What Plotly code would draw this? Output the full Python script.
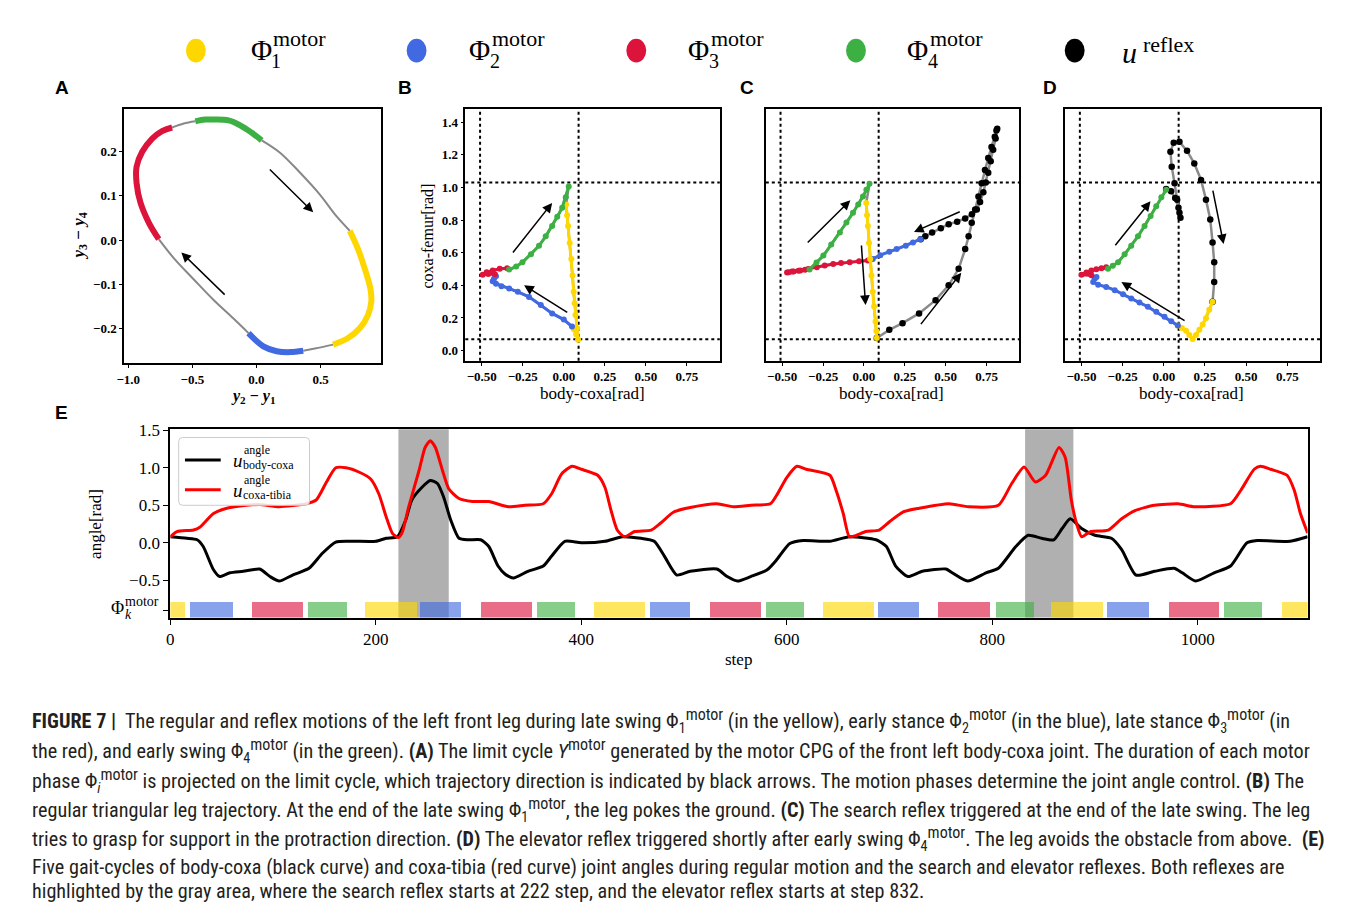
import plotly.graph_objects as go

W, H = 1360, 910
SERIF = "Liberation Serif, DejaVu Serif, serif"
SANS = "Liberation Sans, Arial, sans-serif"
CAP = "Liberation Sans Narrow, Roboto Condensed, Liberation Sans, sans-serif"

# ---------------- data ----------------
phase_colors = ["#FFD700", "#4169E1", "#DC143C", "#3CB043"]
legend_labels = ["1", "2", "3", "4"]

# Panel A: limit cycle of motor CPG (y2-y1, y3-y4), split in phase segments
A_green = [(-0.477, 0.269), (-0.40, 0.273), (-0.334, 0.273), (-0.218, 0.271), (-0.127, 0.26), (-0.036, 0.243), (0.041, 0.226)]
A_gray1 = [(0.041, 0.226), (0.184, 0.198), (0.339, 0.153), (0.495, 0.103), (0.624, 0.054), (0.728, 0.021)]
A_yellow = [(0.728, 0.021), (0.793, -0.021), (0.845, -0.065), (0.889, -0.11), (0.896, -0.14), (0.870, -0.17), (0.806, -0.2), (0.715, -0.222), (0.598, -0.237)]
A_gray2 = [(0.598, -0.237), (0.456, -0.246), (0.365, -0.251)]
A_blue = [(0.365, -0.251), (0.262, -0.254), (0.158, -0.252), (0.054, -0.241), (-0.062, -0.211)]
A_gray3 = [(-0.062, -0.211), (-0.179, -0.178), (-0.334, -0.136), (-0.490, -0.089), (-0.645, -0.041), (-0.762, 0.002)]
A_red = [(-0.762, 0.002), (-0.839, 0.039), (-0.904, 0.084), (-0.935, 0.129), (-0.935, 0.166), (-0.891, 0.2), (-0.813, 0.23), (-0.736, 0.247), (-0.658, 0.255)]
A_gray4 = [(-0.658, 0.255), (-0.567, 0.264), (-0.477, 0.269)]
A_arrows = [((0.093, 0.163), (0.443, 0.063)), ((-0.236, -0.127), (-0.586, -0.028))]

# Panel B: regular triangular trajectory (body-coxa, coxa-femur)
B_yellow = [(0.014, 0.895), (0.020, 0.83), (0.026, 0.764), (0.036, 0.66), (0.046, 0.562), (0.053, 0.46), (0.060, 0.36),
            (0.066, 0.29), (0.071, 0.218), (0.081, 0.137), (0.087, 0.067), (0.075, 0.10), (0.062, 0.13)]
B_blue = [(0.05, 0.147), (0.0, 0.19), (-0.071, 0.228), (-0.14, 0.28), (-0.212, 0.329), (-0.28, 0.36), (-0.333, 0.38),
          (-0.38, 0.395), (-0.413, 0.41), (-0.433, 0.425), (-0.425, 0.44), (-0.413, 0.455)]
B_red = [(-0.42, 0.468), (-0.46, 0.47), (-0.494, 0.465), (-0.47, 0.48), (-0.433, 0.491), (-0.39, 0.502), (-0.345, 0.505)]
B_green = [(-0.333, 0.497), (-0.29, 0.515), (-0.252, 0.541), (-0.2, 0.59), (-0.151, 0.642), (-0.11, 0.70), (-0.071, 0.764),
           (-0.04, 0.82), (-0.010, 0.875), (0.012, 0.94), (0.030, 1.006)]
B_arrows = [((-0.317, 0.592), (-0.071, 0.905)), ((0.03, 0.228), (-0.242, 0.40))]

# Panel C: search reflex
C_yellow = [(0.014, 0.905), (0.019, 0.83), (0.024, 0.764), (0.031, 0.66), (0.038, 0.562), (0.046, 0.46), (0.054, 0.36),
            (0.062, 0.27), (0.071, 0.178), (0.076, 0.12), (0.079, 0.077)]
C_reflex = [(0.079, 0.077), (0.155, 0.127), (0.236, 0.168), (0.337, 0.228), (0.438, 0.309), (0.518, 0.4), (0.579, 0.501),
            (0.619, 0.622), (0.64, 0.70), (0.659, 0.784), (0.68, 0.865), (0.70, 0.945), (0.72, 1.025), (0.74, 1.107),
            (0.76, 1.18), (0.78, 1.248), (0.80, 1.31), (0.81, 1.349), (0.815, 1.36), (0.805, 1.3), (0.79, 1.23),
            (0.775, 1.16), (0.76, 1.09), (0.745, 1.03), (0.73, 0.97), (0.71, 0.91), (0.69, 0.865), (0.66, 0.835),
            (0.619, 0.81), (0.57, 0.79), (0.518, 0.774), (0.47, 0.75), (0.417, 0.723), (0.375, 0.70), (0.347, 0.683)]
C_blue = [(0.347, 0.683), (0.30, 0.662), (0.256, 0.642), (0.20, 0.622), (0.155, 0.606), (0.10, 0.585), (0.054, 0.562)]
C_red = [(0.024, 0.552), (-0.03, 0.548), (-0.087, 0.541), (-0.14, 0.536), (-0.188, 0.531), (-0.24, 0.521), (-0.288, 0.511),
         (-0.34, 0.50), (-0.389, 0.491), (-0.43, 0.484), (-0.46, 0.48), (-0.47, 0.478), (-0.44, 0.485), (-0.40, 0.49), (-0.36, 0.495)]
C_green = [(-0.333, 0.497), (-0.29, 0.54), (-0.248, 0.582), (-0.2, 0.65), (-0.147, 0.723), (-0.107, 0.785), (-0.067, 0.844),
           (-0.035, 0.895), (-0.006, 0.945), (0.015, 0.985), (0.034, 1.022)]
C_arrows = [((-0.353, 0.653), (-0.083, 0.921)), ((-0.016, 0.653), (0.01, 0.279)),
            ((0.595, 0.855), (0.306, 0.727)), ((0.341, 0.153), (0.595, 0.477))]

# Panel D: elevator reflex
D_reflex = [(0.014, 0.99), (0.044, 0.976), (0.069, 0.935), (0.089, 0.875), (0.101, 0.814), (0.095, 0.844), (0.081, 0.925),
            (0.065, 1.026), (0.048, 1.127), (0.04, 1.218), (0.06, 1.273), (0.095, 1.279), (0.141, 1.224), (0.185, 1.147),
            (0.226, 1.046), (0.256, 0.925), (0.282, 0.804), (0.296, 0.663), (0.306, 0.541), (0.306, 0.42), (0.296, 0.299)]
D_yellow = [(0.296, 0.299), (0.276, 0.25), (0.256, 0.198), (0.236, 0.16), (0.216, 0.127), (0.195, 0.095), (0.175, 0.071),
            (0.155, 0.095), (0.135, 0.121), (0.11, 0.138), (0.085, 0.154)]
D_blue = [(0.085, 0.154), (0.045, 0.18), (0.004, 0.208), (-0.046, 0.238), (-0.097, 0.269), (-0.148, 0.294), (-0.198, 0.319),
          (-0.248, 0.345), (-0.298, 0.37), (-0.35, 0.39), (-0.399, 0.404), (-0.429, 0.42), (-0.42, 0.44), (-0.409, 0.451)]
D_red = [(-0.44, 0.462), (-0.5, 0.465), (-0.47, 0.478), (-0.44, 0.491), (-0.41, 0.498), (-0.379, 0.505), (-0.35, 0.51)]
D_green = [(-0.339, 0.501), (-0.31, 0.52), (-0.278, 0.541), (-0.238, 0.59), (-0.198, 0.642), (-0.157, 0.70), (-0.117, 0.764),
           (-0.08, 0.825), (-0.046, 0.885), (-0.015, 0.94), (0.014, 0.986)]
D_arrows = [((-0.302, 0.636), (-0.081, 0.915)), ((0.135, 0.178), (-0.258, 0.42)), ((0.296, 0.99), (0.363, 0.653))]

bc_limits = [-0.51, 0.09]     # body-coxa joint limits (dotted)
cf_limits = [0.07, 1.03]      # coxa-femur joint limits (dotted)

# Panel E: joint angles over time
bc_steps = [0, 16, 26, 32, 42, 48, 58, 71, 87, 97, 106, 119, 135, 148, 161, 177, 200, 210, 221, 229, 235, 245, 253, 260,
            266, 273, 281, 290, 302, 310, 319, 326, 334, 348, 363, 371, 384, 400, 423, 440, 458, 471, 481, 493, 506, 532,
            542, 552, 565, 581, 590, 603, 616, 642, 661, 687, 697, 706, 718, 732, 755, 761, 776, 794, 806, 823, 835, 848,
            860, 868, 876, 887, 900, 916, 926, 940, 958, 977, 985, 998, 1016, 1032, 1048, 1058, 1090, 1107]
bc_angle = [0.08, 0.06, 0.04, -0.05, -0.36, -0.45, -0.40, -0.38, -0.35, -0.45, -0.51, -0.43, -0.34, -0.14, 0.01, 0.02,
            0.02, 0.06, 0.08, 0.30, 0.57, 0.74, 0.83, 0.79, 0.61, 0.30, 0.06, 0.04, 0.04, -0.05, -0.31, -0.42, -0.47,
            -0.38, -0.31, -0.18, 0.02, 0.0, 0.02, 0.08, 0.06, 0.02, -0.18, -0.43, -0.38, -0.35, -0.45, -0.51, -0.45,
            -0.36, -0.23, -0.01, 0.03, 0.02, 0.08, 0.04, -0.05, -0.31, -0.45, -0.38, -0.35, -0.40, -0.51, -0.40, -0.34,
            -0.05, 0.10, 0.06, 0.04, 0.19, 0.32, 0.19, 0.10, 0.06, -0.09, -0.43, -0.38, -0.34, -0.40, -0.51, -0.40,
            -0.31, 0.0, 0.03, 0.02, 0.08]
ct_steps = [0, 6.5, 22.6, 29, 42, 55, 74, 87, 106, 132, 142, 152, 161, 171, 184, 195, 203, 210, 216, 222, 226, 232, 242,
            248, 253, 258, 265, 271, 281, 294, 310, 329, 345, 363, 371, 381, 391, 400, 416, 423, 429, 435, 442, 452, 468,
            477, 490, 506, 532, 548, 565, 584, 590, 600, 610, 619, 642, 648, 655, 661, 668, 677, 690, 700, 713, 729, 758,
            777, 806, 819, 831, 842, 852, 865, 871, 877, 882, 887, 896, 913, 926, 939, 958, 981, 997, 1032, 1042, 1055,
            1061, 1071, 1087, 1094, 1100, 1107]
ct_angle = [0.08, 0.15, 0.17, 0.21, 0.39, 0.46, 0.50, 0.51, 0.48, 0.52, 0.57, 0.81, 1.0, 1.0, 0.94, 0.85, 0.65, 0.35,
            0.13, 0.07, 0.15, 0.48, 0.96, 1.27, 1.36, 1.27, 0.96, 0.72, 0.59, 0.55, 0.55, 0.48, 0.50, 0.52, 0.65, 0.92,
            1.02, 0.98, 0.90, 0.74, 0.43, 0.17, 0.08, 0.15, 0.17, 0.26, 0.41, 0.47, 0.52, 0.48, 0.50, 0.52, 0.63, 0.87,
            1.02, 0.98, 0.90, 0.70, 0.39, 0.08, 0.10, 0.15, 0.17, 0.28, 0.41, 0.46, 0.52, 0.48, 0.50, 0.79, 1.01, 0.81,
            0.90, 1.27, 1.14, 0.57, 0.26, 0.08, 0.15, 0.17, 0.32, 0.43, 0.50, 0.52, 0.48, 0.52, 0.70, 0.98, 1.02, 0.98,
            0.90, 0.70, 0.39, 0.13]

phase_start = [0, 19, 80, 134, 190, 243, 303, 357, 413, 467, 526, 580, 636, 689, 748, 804, 858, 912, 972, 1026, 1082]
phase_end = [15, 61, 129, 172, 240, 283, 352, 394, 462, 506, 575, 617, 685, 729, 798, 841, 908, 953, 1021, 1063, 1110]
phase_id = [1, 2, 3, 4, 1, 2, 3, 4, 1, 2, 3, 4, 1, 2, 3, 4, 1, 2, 3, 4, 1]
reflex_start = [222, 832]
reflex_end = [271, 879]

E_xticks = [0, 200, 400, 600, 800, 1000]
E_yticks = [-0.5, 0.0, 0.5, 1.0, 1.5]
A_xticks = [-1.0, -0.5, 0.0, 0.5]
A_yticks = [-0.2, -0.1, 0.0, 0.1, 0.2]
BCD_xticks = [-0.5, -0.25, 0.0, 0.25, 0.5, 0.75]
B_yticks = [0.0, 0.2, 0.4, 0.6, 0.8, 1.0, 1.2, 1.4]

M = '<sup><span style="font-size:16px">motor</span></sup>'
caption_lines = [
    "<b>FIGURE 7 |</b>  The regular and reflex motions of the left front leg during late swing Φ<sub>1</sub>" + M + " (in the yellow), early stance Φ<sub>2</sub>" + M + " (in the blue), late stance Φ<sub>3</sub>" + M + " (in",
    "the red), and early swing Φ<sub>4</sub>" + M + " (in the green). <b>(A)</b> The limit cycle <i>Y</i>" + M + " generated by the motor CPG of the front left body-coxa joint. The duration of each motor",
    "phase Φ<sub><i>i</i></sub>" + M + " is projected on the limit cycle, which trajectory direction is indicated by black arrows. The motion phases determine the joint angle control. <b>(B)</b> The",
    "regular triangular leg trajectory. At the end of the late swing Φ<sub>1</sub>" + M + ", the leg pokes the ground. <b>(C)</b> The search reflex triggered at the end of the late swing. The leg",
    "tries to grasp for support in the protraction direction. <b>(D)</b> The elevator reflex triggered shortly after early swing Φ<sub>4</sub>" + M + ". The leg avoids the obstacle from above.  <b>(E)</b>",
    "Five gait-cycles of body-coxa (black curve) and coxa-tibia (red curve) joint angles during regular motion and the search and elevator reflexes. Both reflexes are",
    "highlighted by the gray area, where the search reflex starts at 222 step, and the elevator reflex starts at step 832.",
]
caption_y = [719, 749, 779, 809, 838, 867, 891]


# ---------------- helpers ----------------
def PX(x):
    return x / W


def PY(y):
    return 1 - y / H


def xs(pts):
    return [p[0] for p in pts]


def ys(pts):
    return [p[1] for p in pts]


def fmt(v, nd):
    s = f"{abs(v):.{nd}f}"
    return ("−" + s) if v < 0 else s


annotations = []
shapes = []


def txt(x, y, s, size, family=SERIF, xanchor="center", yanchor="middle", angle=0, color="black", weight="normal"):
    annotations.append(dict(x=PX(x), y=PY(y), xref="paper", yref="paper", text=s, showarrow=False,
                            xanchor=xanchor, yanchor=yanchor, textangle=angle,
                            font=dict(family=family, size=size, color=color, weight=weight)))


fig = go.Figure()

# ---------- Panel A ----------
for seg in [A_gray1, A_gray2, A_gray3, A_gray4]:
    fig.add_trace(go.Scatter(x=xs(seg), y=ys(seg), mode="lines", line=dict(color="#888888", width=2, shape="spline"),
                             xaxis="x", yaxis="y", showlegend=False, hoverinfo="skip"))
for seg, c in [(A_yellow, 0), (A_blue, 1), (A_red, 2), (A_green, 3)]:
    fig.add_trace(go.Scatter(x=xs(seg), y=ys(seg), mode="lines", line=dict(color=phase_colors[c], width=6, shape="spline"),
                             xaxis="x", yaxis="y", showlegend=False))


def traj(ax, segs, reflex=None):
    full = []
    for s, _ in segs:
        full += s
    if reflex is not None:
        full = reflex + full
    full = full + [full[0]]
    fig.add_trace(go.Scatter(x=xs(full), y=ys(full), mode="lines", line=dict(color="#8a8a8a", width=2.5),
                             xaxis="x" + ax, yaxis="y" + ax, showlegend=False, hoverinfo="skip"))
    if reflex is not None:
        fig.add_trace(go.Scatter(x=xs(reflex), y=ys(reflex), mode="markers",
                                 marker=dict(color="black", size=6.5),
                                 xaxis="x" + ax, yaxis="y" + ax, showlegend=False))
    for s, c in segs:
        fig.add_trace(go.Scatter(x=xs(s), y=ys(s), mode="lines+markers",
                                 line=dict(color=phase_colors[c], width=3),
                                 marker=dict(color=phase_colors[c], size=6),
                                 xaxis="x" + ax, yaxis="y" + ax, showlegend=False))


traj("2", [(B_yellow, 0), (B_blue, 1), (B_red, 2), (B_green, 3)])
traj("3", [(C_blue, 1), (C_red, 2), (C_green, 3), (C_yellow, 0)], reflex=C_reflex)
traj("4", [(D_yellow, 0), (D_blue, 1), (D_red, 2), (D_green, 3)], reflex=D_reflex)

# ---------- Panel E ----------
fig.add_trace(go.Bar(x=[(a + b) / 2 for a, b in zip(phase_start, phase_end)],
                     y=[0.21] * len(phase_start), base=-1.0,
                     width=[b - a for a, b in zip(phase_start, phase_end)],
                     marker=dict(color=[phase_colors[p - 1] for p in phase_id], line=dict(width=0)),
                     opacity=0.62, xaxis="x5", yaxis="y5", showlegend=False))
fig.add_trace(go.Scatter(x=bc_steps, y=bc_angle, mode="lines", line=dict(color="black", width=3, shape="spline", smoothing=0.6),
                         xaxis="x5", yaxis="y5", showlegend=False))
fig.add_trace(go.Scatter(x=ct_steps, y=ct_angle, mode="lines", line=dict(color="#FF0000", width=3, shape="spline", smoothing=0.6),
                         xaxis="x5", yaxis="y5", showlegend=False))

for a, b in zip(reflex_start, reflex_end):
    shapes.append(dict(type="rect", xref="x5", yref="y5 domain", x0=a, x1=b, y0=0, y1=1,
                       fillcolor="rgba(128,128,128,0.62)", line=dict(width=0), layer="below"))

# dotted limit lines in B, C, D
for ax in ["2", "3", "4"]:
    for v in bc_limits:
        shapes.append(dict(type="line", xref="x" + ax, yref="y" + ax + " domain", x0=v, x1=v, y0=0, y1=1,
                           line=dict(color="black", width=2, dash="dot"), layer="below"))
    for v in cf_limits:
        shapes.append(dict(type="line", xref="x" + ax + " domain", yref="y" + ax, x0=0, x1=1, y0=v, y1=v,
                           line=dict(color="black", width=2, dash="dot"), layer="below"))

# arrows
for ax, arrs in [("", A_arrows), ("2", B_arrows), ("3", C_arrows), ("4", D_arrows)]:
    for (tx, ty), (hx, hy) in arrs:
        annotations.append(dict(x=hx, y=hy, ax=tx, ay=ty, xref="x" + ax, yref="y" + ax, axref="x" + ax, ayref="y" + ax,
                                text="", showarrow=True, arrowhead=2, arrowsize=1.3, arrowwidth=1.5, arrowcolor="black"))

# ---------- axes ----------
tickA = dict(family=SERIF, size=13, color="black", weight="bold")
common = dict(showline=True, linecolor="black", linewidth=1.5, mirror=True, showgrid=False, zeroline=False,
              ticks="outside", ticklen=3, tickcolor="black")

layout = dict(width=W, height=H, margin=dict(l=0, r=0, t=0, b=0), plot_bgcolor="white", paper_bgcolor="white",
              barmode="overlay", bargap=0)

layout["xaxis"] = dict(common, domain=[116.7 / W, 375.5 / W], range=[-1.033, 0.974], anchor="y",
                       tickvals=A_xticks, ticktext=[fmt(v, 1) for v in A_xticks], tickfont=tickA)
layout["yaxis"] = dict(common, domain=[PY(358.3), PY(102.3)], range=[-0.279, 0.296], anchor="x",
                       tickvals=A_yticks, ticktext=[fmt(v, 1) for v in A_yticks], tickfont=tickA)

boxes = {"2": (460, 716), "3": (762.3, 1017.3), "4": (1063.3, 1320)}
for ax, (l, r) in boxes.items():
    layout["xaxis" + ax] = dict(common, domain=[l / W, r / W], range=[-0.6, 0.95], anchor="y" + ax,
                                tickvals=BCD_xticks, ticktext=[fmt(v, 2) for v in BCD_xticks], tickfont=tickA)
    layout["yaxis" + ax] = dict(common, domain=[PY(356), PY(102.3)], range=[-0.063, 1.478], anchor="x" + ax,
                                tickvals=B_yticks, ticktext=[fmt(v, 1) for v in B_yticks], tickfont=tickA,
                                showticklabels=(ax == "2"), ticks="outside" if ax == "2" else "")

tickE = dict(family=SERIF, size=17, color="black")
layout["xaxis5"] = dict(common, linewidth=2, domain=[163.3 / W, 1307.3 / W], range=[0, 1107], anchor="y5",
                        tickvals=E_xticks, ticktext=[str(v) for v in E_xticks], tickfont=tickE, ticklen=5)
layout["yaxis5"] = dict(common, linewidth=2, domain=[PY(615), PY(425)], range=[-0.997, 1.513], anchor="x5",
                        tickvals=E_yticks + [-0.9], ticktext=[fmt(v, 1) for v in E_yticks] + [""],
                        tickfont=tickE, ticklen=5)

# ---------- texts ----------
for lab, x, y in [("A", 54, 80), ("B", 399, 80), ("C", 743, 80), ("D", 1048, 80), ("E", 54, 408)]:
    txt(x, y, lab, 19, family=SANS, weight="bold")

# top legend
dot_x = [189, 411, 632, 853, 1073]
for i, c in enumerate(phase_colors + ["black"]):
    shapes.append(dict(type="circle", xref="paper", yref="paper", x0=PX(dot_x[i] - 10), x1=PX(dot_x[i] + 10),
                       y0=PY(55), y1=PY(31), fillcolor=c, line=dict(width=0)))
for i, lab in enumerate(legend_labels):
    bx = 242 + 220 * i
    txt(bx, 42, "Φ", 29, xanchor="left")
    txt(bx + 23, 31, "motor", 22, xanchor="left")
    txt(bx + 21, 53, lab, 20, xanchor="left")
txt(1119, 45, "<i>u</i>", 30, xanchor="left")
txt(1140, 37, "reflex", 22, xanchor="left")

# axis titles
txt(247, 392, "<i>y</i><sub>2</sub> − <i>y</i><sub>1</sub>", 16, weight="bold")
txt(72, 230, "<i>y</i><sub>3</sub> − <i>y</i><sub>4</sub>", 17, angle=-90, weight="bold")
txt(422, 230, "coxa-femur[rad]", 16, angle=-90)
for cx in [588, 889, 1191]:
    txt(cx, 389, "body-coxa[rad]", 17)
txt(88, 520, "angle[rad]", 17, angle=-90)
txt(735, 657, "step", 17)
# Phi_k^motor tick label
txt(102, 605, "Φ", 18, xanchor="left")
txt(116, 599, "motor", 14, xanchor="left")
txt(116, 612, "<i>k</i>", 14, xanchor="left")

# legend of panel E (rounded box)
x0, x1, y0, y1, r = 171.7, 303.3, 433.3, 501.7, 4
pts = [("M", x0 + r, y0), ("L", x1 - r, y0), ("Q", x1, y0, x1, y0 + r), ("L", x1, y1 - r), ("Q", x1, y1, x1 - r, y1),
       ("L", x0 + r, y1), ("Q", x0, y1, x0, y1 - r), ("L", x0, y0 + r), ("Q", x0, y0, x0 + r, y0)]
path = ""
for p in pts:
    cmd = p[0]
    coords = p[1:]
    parts = []
    for k in range(0, len(coords), 2):
        parts.append(f"{PX(coords[k]):.5f},{PY(coords[k + 1]):.5f}")
    path += cmd + " " + " ".join(parts) + " "
path += "Z"
shapes.append(dict(type="path", xref="paper", yref="paper", path=path,
                   fillcolor="rgba(255,255,255,0.85)", line=dict(color="#cccccc", width=1)))
for yy, col, sub in [(456, "black", "body-coxa"), (486, "#FF0000", "coxa-tibia")]:
    shapes.append(dict(type="line", xref="paper", yref="paper", x0=PX(178), x1=PX(214), y0=PY(yy), y1=PY(yy),
                       line=dict(color=col, width=3)))
    txt(224, yy + 1, "<i>u</i>", 19, xanchor="left")
    txt(235, yy - 10, "angle", 12, xanchor="left")
    txt(234, yy + 5, sub, 12, xanchor="left")

# caption
for s, y in zip(caption_lines, caption_y):
    txt(22, y, s, 20.2, family=CAP, xanchor="left", color="#231F20")

layout["annotations"] = annotations
layout["shapes"] = shapes
fig.update_layout(**layout)
fig.write_html("out.html", config={"displayModeBar": False},
               post_script="document.body.style.margin='0px';document.body.style.overflow='hidden';"
                           "document.documentElement.style.overflow='hidden';")
